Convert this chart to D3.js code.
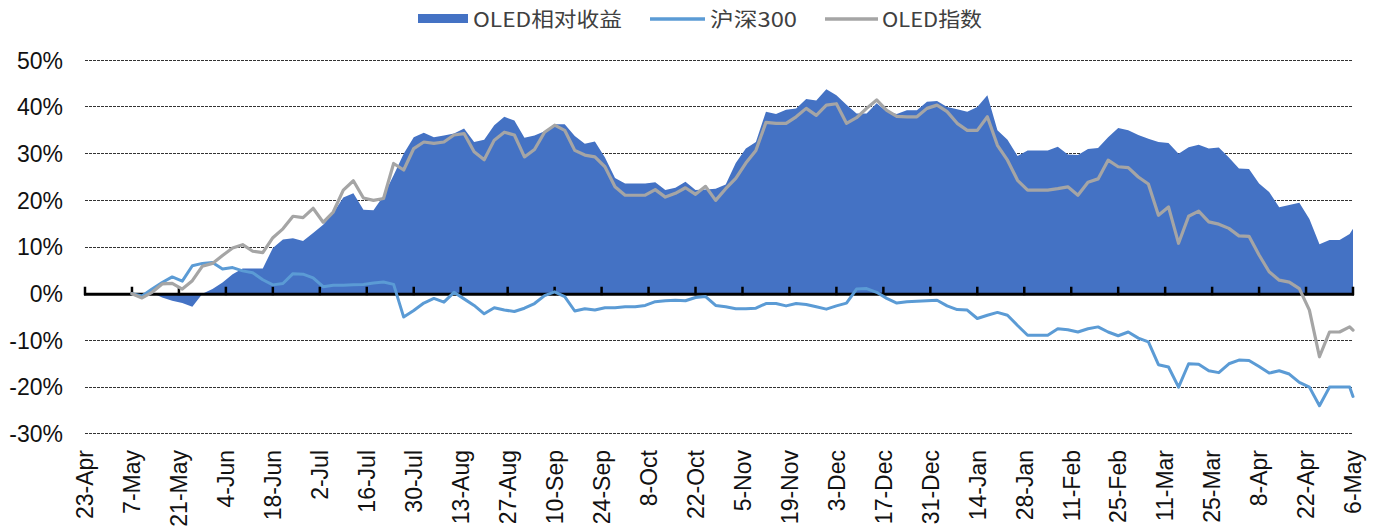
<!DOCTYPE html>
<html>
<head>
<meta charset="utf-8">
<script src="https://cdn.jsdelivr.net/npm/d3@7"></script>
<style>
  html, body { margin: 0; padding: 0; background: #fff; }
  svg { display: block; }
</style>
</head>
<body>
<svg id="chart" width="1381" height="531"></svg>
<script>
// ---- Data ----
const dates = [
"2018-05-07","2018-05-10","2018-05-13","2018-05-16","2018-05-19","2018-05-22","2018-05-25","2018-05-28","2018-05-31",
"2018-06-03","2018-06-06","2018-06-09","2018-06-12","2018-06-15","2018-06-18","2018-06-21","2018-06-24","2018-06-27","2018-06-30",
"2018-07-03","2018-07-06","2018-07-09","2018-07-12","2018-07-15","2018-07-18","2018-07-21","2018-07-24","2018-07-27","2018-07-30",
"2018-08-02","2018-08-05","2018-08-08","2018-08-11","2018-08-14","2018-08-17","2018-08-20","2018-08-23","2018-08-26","2018-08-29",
"2018-09-01","2018-09-04","2018-09-07","2018-09-10","2018-09-13","2018-09-16","2018-09-19","2018-09-22","2018-09-25","2018-09-28",
"2018-10-01","2018-10-04","2018-10-07","2018-10-10","2018-10-13","2018-10-16","2018-10-19","2018-10-22","2018-10-25","2018-10-28","2018-10-31",
"2018-11-03","2018-11-06","2018-11-09","2018-11-12","2018-11-15","2018-11-18","2018-11-21","2018-11-24","2018-11-27","2018-11-30",
"2018-12-03","2018-12-06","2018-12-09","2018-12-12","2018-12-15","2018-12-18","2018-12-21","2018-12-24","2018-12-27","2018-12-30",
"2019-01-02","2019-01-05","2019-01-08","2019-01-11","2019-01-14","2019-01-17","2019-01-20","2019-01-23","2019-01-26","2019-01-29",
"2019-02-01","2019-02-04","2019-02-07","2019-02-10","2019-02-13","2019-02-16","2019-02-19","2019-02-22","2019-02-25","2019-02-28",
"2019-03-03","2019-03-06","2019-03-09","2019-03-12","2019-03-15","2019-03-18","2019-03-21","2019-03-24","2019-03-27","2019-03-30",
"2019-04-02","2019-04-05","2019-04-08","2019-04-11","2019-04-14","2019-04-17","2019-04-20","2019-04-23","2019-04-26","2019-04-29",
"2019-05-02","2019-05-05","2019-05-06"
];

// OLED相对收益 (%)
const oledRelative = [
0,0,0.2,-0.8,-1.5,-2.0,-2.8,0,1.0,
2.4,4.2,5.4,5.4,5.4,9.8,11.6,11.9,11.3,13.0,
14.8,17.3,20.6,21.5,18.0,17.9,21.0,25.4,30.0,33.5,
34.5,33.5,33.9,34.3,35.4,32.5,33.0,36.1,37.9,37.1,
33.4,33.9,34.8,36.3,36.3,33.8,32.1,32.6,29.2,24.8,
23.6,23.6,23.6,23.9,22.2,22.7,24.0,22.2,22.3,22.5,23.4,
28.0,31.1,32.5,39.0,38.5,39.4,39.7,41.7,41.4,43.8,
42.5,40.5,38.6,38.6,40.8,39.0,38.5,39.3,39.3,41.1,
41.3,40.0,39.5,39.0,40.0,42.5,35.0,33.0,29.5,30.7,
30.7,30.7,31.5,29.8,29.7,31.0,31.2,33.5,35.5,35.0,
34.0,33.2,32.5,32.3,30.0,31.4,31.9,31.1,31.3,29.2,
26.8,26.7,23.6,21.8,18.5,19.0,19.5,16.0,10.6,11.5,
11.5,12.8,13.9
];

// 沪深300 (%)
const hs300 = [
0,-0.5,1.0,2.4,3.6,2.7,6.0,6.5,6.7,
5.3,5.6,4.9,4.5,3.0,1.9,2.2,4.3,4.2,3.4,
1.5,1.8,1.8,1.9,2.0,2.3,2.5,2.0,-5.0,-3.6,
-2.0,-1.0,-1.8,0.3,-1.1,-2.5,-4.3,-3.0,-3.5,-3.8,
-3.1,-2.1,-0.4,0.4,-0.6,-3.7,-3.2,-3.5,-3.0,-3.0,
-2.8,-2.8,-2.5,-1.7,-1.5,-1.4,-1.5,-0.8,-0.6,-2.5,-2.8,
-3.2,-3.2,-3.1,-2.1,-2.1,-2.6,-2.1,-2.3,-2.8,-3.3,
-2.6,-2.0,1.0,1.1,0.3,-1.0,-2.0,-1.7,-1.6,-1.5,
-1.4,-2.6,-3.4,-3.5,-5.3,-4.6,-4.0,-4.6,-6.8,-8.9,
-8.9,-8.9,-7.5,-7.7,-8.2,-7.5,-7.1,-8.2,-9.0,-8.2,
-9.5,-10.3,-15.2,-15.7,-20.0,-15.0,-15.1,-16.5,-16.9,-15.0,
-14.2,-14.3,-15.6,-17.0,-16.5,-17.2,-19.0,-20.0,-24.0,-20.0,
-20.0,-20.0,-22.0
];

// OLED指数 (%)
const oledIndex = [
0,-0.9,0.3,2.1,2.2,1.0,2.8,5.9,6.5,
8.2,9.8,10.5,9.1,8.8,12.0,13.9,16.6,16.3,18.3,
15.3,17.5,22.2,24.2,20.5,20.0,20.4,27.9,26.5,31.1,
32.5,32.2,32.5,34.0,34.3,30.4,28.7,32.9,34.6,34.0,
29.3,30.9,34.6,36.1,35.0,30.7,29.7,29.3,27.2,22.9,
21.1,21.1,21.1,22.3,20.7,21.5,22.7,21.3,23.0,20.0,22.5,
24.7,28.0,30.7,36.7,36.5,36.5,37.9,39.7,38.2,40.4,
40.7,36.5,37.7,39.7,41.5,39.3,38.0,37.9,37.9,39.7,
40.4,39.0,36.5,35.0,35.0,37.9,31.8,28.6,24.3,22.2,
22.2,22.2,22.5,22.9,21.1,23.9,24.6,28.6,27.2,27.0,
25.0,23.5,16.8,18.6,10.8,16.6,17.7,15.4,14.9,14.0,
12.4,12.3,8.3,4.7,2.9,2.5,1.1,-3.5,-13.5,-8.2,
-8.2,-7.1,-7.8
];

const yTickValues = [-30,-20,-10,0,10,20,30,40,50];
const xTickDates = [
"2018-04-23","2018-05-07","2018-05-21","2018-06-04","2018-06-18","2018-07-02","2018-07-16","2018-07-30",
"2018-08-13","2018-08-27","2018-09-10","2018-09-24","2018-10-08","2018-10-22","2018-11-05","2018-11-19",
"2018-12-03","2018-12-17","2018-12-31","2019-01-14","2019-01-28","2019-02-11","2019-02-25","2019-03-11",
"2019-03-25","2019-04-08","2019-04-22","2019-05-06"
];
const seriesNames = ["OLED相对收益","沪深300","OLED指数"];

// ---- Drawing ----
const parse = d3.timeParse("%Y-%m-%d");
const fmt = d3.timeFormat("%-d-%b");
const svg = d3.select("#chart");

const x = d3.scaleTime()
  .domain([parse(xTickDates[0]), parse(xTickDates[xTickDates.length-1])])
  .range([85, 1353]);
const y = d3.scaleLinear().domain([-30, 50]).range([433.8, 60.3]);

const pts = (vals) => dates.map((d, i) => ({date: parse(d), v: vals[i]}));

// gridlines
svg.append("g").selectAll("line")
  .data(yTickValues.filter(v => v !== 0))
  .join("line")
  .attr("x1", 85).attr("x2", 1353)
  .attr("y1", d => y(d)).attr("y2", d => y(d))
  .attr("stroke", "#333").attr("stroke-width", 1)
  .attr("stroke-dasharray", "2.5,1.5")
  .attr("shape-rendering", "crispEdges");

// y labels
svg.append("g").selectAll("text")
  .data(yTickValues)
  .join("text")
  .attr("x", 63).attr("y", d => y(d))
  .attr("dy", "0.36em")
  .attr("text-anchor", "end")
  .attr("font-family", "'Liberation Sans', Arial, sans-serif")
  .attr("font-size", 23)
  .attr("fill", "#111")
  .text(d => d + "%");

// area
const area = d3.area()
  .x(d => x(d.date))
  .y0(y(0))
  .y1(d => y(d.v));
svg.append("path")
  .datum(pts(oledRelative))
  .attr("d", area)
  .attr("fill", "#4472C4");

// zero axis with ticks
const y0 = y(0);
svg.append("line")
  .attr("x1", 84).attr("x2", 1354)
  .attr("y1", y0 + 0.5).attr("y2", y0 + 0.5)
  .attr("stroke", "#000").attr("stroke-width", 3);
svg.append("g").selectAll("line")
  .data(xTickDates)
  .join("line")
  .attr("x1", d => x(parse(d))).attr("x2", d => x(parse(d)))
  .attr("y1", y0 + 1.5).attr("y2", y0 - 7)
  .attr("stroke", "#000").attr("stroke-width", 2.5);

// lines
const line = d3.line().x(d => x(d.date)).y(d => y(d.v));
svg.append("path")
  .datum(pts(hs300))
  .attr("d", line)
  .attr("fill", "none")
  .attr("stroke", "#5B9BD5").attr("stroke-width", 3)
  .attr("stroke-linejoin", "round").attr("stroke-linecap", "round");
svg.append("path")
  .datum(pts(oledIndex))
  .attr("d", line)
  .attr("fill", "none")
  .attr("stroke", "#A5A5A5").attr("stroke-width", 3.2)
  .attr("stroke-linejoin", "round").attr("stroke-linecap", "round");

// x labels
svg.append("g").selectAll("text")
  .data(xTickDates)
  .join("text")
  .attr("transform", d => `translate(${x(parse(d))},450) rotate(-90)`)
  .attr("dy", "0.36em")
  .attr("text-anchor", "end")
  .attr("font-family", "'Liberation Sans', Arial, sans-serif")
  .attr("font-size", 23)
  .attr("fill", "#111")
  .text(d => fmt(parse(d)));

// legend
const lg = svg.append("g")
  .attr("font-family", "'Noto Sans CJK SC', sans-serif")
  .attr("font-size", 20)
  .attr("fill", "#404040");
lg.append("rect").attr("x", 418).attr("y", 14).attr("width", 50).attr("height", 9).attr("fill", "#4472C4");
lg.append("text").attr("x", 473).attr("y", 27).attr("textLength", 149).attr("lengthAdjust", "spacingAndGlyphs").text(seriesNames[0]);
lg.append("line").attr("x1", 650).attr("x2", 705).attr("y1", 19).attr("y2", 19)
  .attr("stroke", "#5B9BD5").attr("stroke-width", 3.5);
lg.append("text").attr("x", 710).attr("y", 27).attr("textLength", 87).attr("lengthAdjust", "spacingAndGlyphs").text(seriesNames[1]);
lg.append("line").attr("x1", 825).attr("x2", 878).attr("y1", 19).attr("y2", 19)
  .attr("stroke", "#A5A5A5").attr("stroke-width", 3.5);
lg.append("text").attr("x", 882).attr("y", 27).attr("textLength", 100).attr("lengthAdjust", "spacingAndGlyphs").text(seriesNames[2]);
</script>
</body>
</html>
